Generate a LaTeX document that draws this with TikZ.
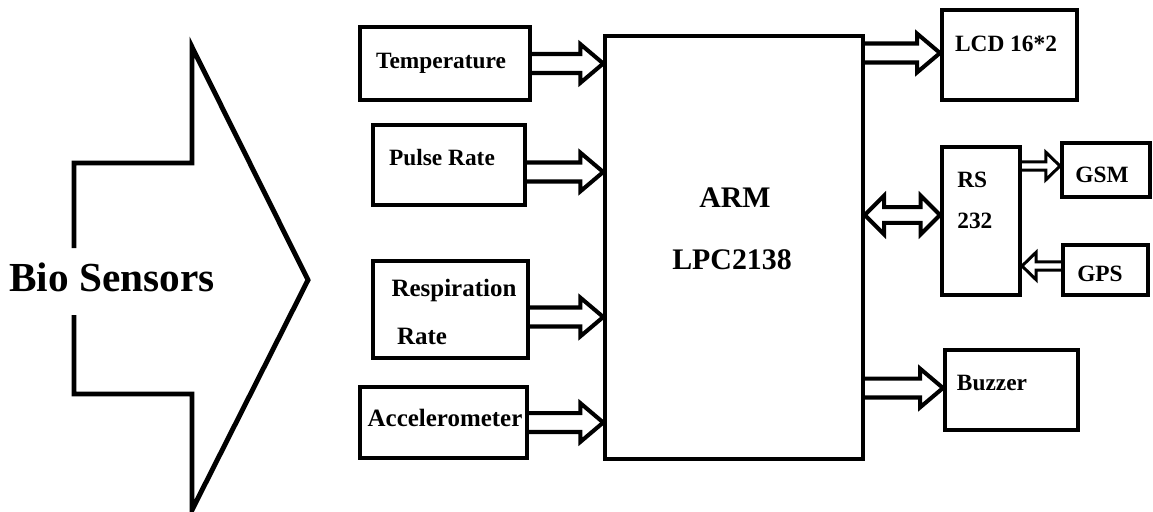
\documentclass[tikz,border=0pt]{standalone}
\usepackage{fontspec}
\setmainfont{Liberation Serif}
\usetikzlibrary{calc, fit}

\begin{document}
\begin{tikzpicture}[
    x=0.02cm, y=-0.02cm,
    blk/.style={draw, line width=2.3pt, inner sep=0pt},
    lbl/.style={font=\fontsize{13.3}{16}\selectfont\bfseries, inner sep=0pt},
    % hollow bus arrow: half rail gap, head length, half head width
    hollow/.style n args={3}{line join=miter, to path={
        let \p1=(\tikztostart), \p2=(\tikztotarget), \n1={sign(\x2-\x1)} in
        (\x1,\y1+#1) -- (\x2-\n1*#2,\y1+#1) -- (\x2-\n1*#2,\y1+#3) -- (\x2,\y1)
        -- (\x2-\n1*#2,\y1-#3) -- (\x2-\n1*#2,\y1-#1) -- (\x1,\y1-#1)}},
    hollowbi/.style n args={3}{line join=miter, to path={
        let \p1=(\tikztostart), \p2=(\tikztotarget), \n1={sign(\x2-\x1)} in
        (\x1,\y1) -- (\x1+\n1*#2,\y1+#3) -- (\x1+\n1*#2,\y1+#1)
        -- (\x2-\n1*#2,\y1+#1) -- (\x2-\n1*#2,\y1+#3) -- (\x2,\y1)
        -- (\x2-\n1*#2,\y1-#3) -- (\x2-\n1*#2,\y1-#1)
        -- (\x1+\n1*#2,\y1-#1) -- (\x1+\n1*#2,\y1-#3) -- cycle}},
    bus/.style={line width=2.3pt, hollow={5.4pt}{13pt}{11pt}},
    busbi/.style={line width=2.3pt, hollowbi={4.5pt}{11pt}{11pt}},
    thinbus/.style={line width=1.7pt, hollow={2.3pt}{8pt}{7.8pt}}
]
\useasboundingbox (0,0) rectangle (1153,511);

% --- bio sensors input arrow ---
\draw[line width=2.8pt] (74,248) -- (74,163) -- (192,163) -- (192,47)
    -- (308,280) -- (192,510) -- (192,394) -- (74,394) -- (74,315);
\node[font=\fontsize{23.5}{27}\selectfont\bfseries, inner sep=0pt] (bio) at (112,277) {Bio Sensors};

% --- sensors ---
\node[blk, fit={(360,27) (530,100)}] (temp) {};
\node[blk, fit={(373,125) (525,205)}] (pulse) {};
\node[blk, fit={(373,261) (528,358)}] (resp) {};
\node[blk, fit={(360,387) (527,458)}] (accel) {};
\node[lbl] (temptxt) at (441,63) {Temperature};
\node[lbl] (pulsetxt) at (442,158) {Pulse Rate};
\node[lbl, font=\fontsize{14.2}{17}\selectfont\bfseries] (resptxt) at (454,290) {Respiration};
\node[lbl, font=\fontsize{14.2}{17}\selectfont\bfseries] (ratetxt) at (422,336) {Rate};
\node[lbl, font=\fontsize{14.2}{17}\selectfont\bfseries] (acceltxt) at (445,418) {Accelerometer};

% --- controller ---
\node[blk, line width=2pt, fit={(605,36) (863,459)}] (arm) {};
\node[font=\fontsize{17}{20}\selectfont\bfseries, inner sep=0pt] (armtxt) at (735,198) {ARM};
\node[font=\fontsize{17}{20}\selectfont\bfseries, inner sep=0pt] (lpctxt) at (732,260) {LPC2138};

% --- outputs ---
\node[blk, fit={(942,10) (1077,100)}] (lcd) {};
\node[blk, fit={(942,147) (1020,295)}] (rs) {};
\node[blk, fit={(1062,143) (1150,197)}] (gsm) {};
\node[blk, fit={(1063,245) (1148,295)}] (gps) {};
\node[blk, fit={(945,350) (1078,430)}] (buzz) {};
\node[lbl] (lcdtxt) at (1006,44) {LCD 16*2};
\node[lbl, anchor=west] (rstxt) at (957,180) {RS};
\node[lbl, anchor=west] (rsnum) at (957,221) {232};
\node[lbl] (gsmtxt) at (1102,175) {GSM};
\node[lbl] (gpstxt) at (1100,274) {GPS};
\node[lbl] (buzztxt) at (992,383) {Buzzer};

% --- buses ---
\draw[bus] (temp.east) to (temp.east -| arm.west);
\draw[bus] ([yshift=-0.14cm]pulse.east) to ([yshift=-0.14cm]pulse.east -| arm.west);
\draw[bus] ([yshift=-0.15cm]resp.east) to ([yshift=-0.15cm]resp.east -| arm.west);
\draw[bus] (accel.east) to (accel.east -| arm.west);
\draw[bus] ([yshift=0.04cm]lcd.west -| arm.east) to ([yshift=0.04cm]lcd.west);
\draw[busbi] ([yshift=0.12cm]rs.west -| arm.east) to ([yshift=0.12cm]rs.west);
\draw[bus] ([yshift=0.04cm]buzz.west -| arm.east) to ([yshift=0.04cm]buzz.west);
\draw[thinbus] ([yshift=0.08cm]gsm.west -| rs.east) to ([yshift=0.08cm]gsm.west);
\draw[thinbus] ([yshift=0.08cm]gps.west) to ([yshift=0.08cm]gps.west -| rs.east);

\end{tikzpicture}
\end{document}
